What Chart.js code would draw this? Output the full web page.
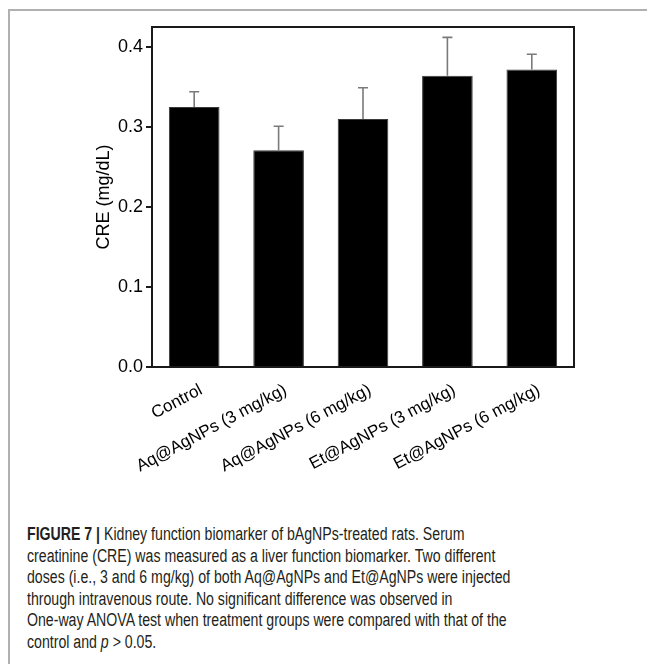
<!DOCTYPE html>
<html>
<head>
<meta charset="utf-8">
<script src="https://cdn.jsdelivr.net/npm/chart.js@4.4.0/dist/chart.umd.min.js"></script>
<style>
  html, body { margin: 0; padding: 0; background: #fff; }
  body { width: 647px; height: 664px; position: relative; overflow: hidden; }
  #frame { position: absolute; left: 8px; top: 9px; width: 660px; height: 700px;
           border-left: 2px solid #b0b0b0; border-top: 2px solid #b0b0b0; }
  #wrap { position: absolute; left: 0; top: 0; width: 647px; height: 480px; }
  #caption { position: absolute; left: 27px; top: 524px; width: 800px;
             font-family: "Liberation Sans", Arial, sans-serif;
             font-size: 18px; line-height: 21.6px; color: #231f20; white-space: nowrap;
             transform: scaleX(0.785); transform-origin: 0 0; }
</style>
</head>
<body>
<div id="frame"></div>
<div id="wrap"><canvas id="c" width="647" height="480"></canvas></div>
<div id="caption"><b>FIGURE 7 |</b> Kidney function biomarker of bAgNPs-treated rats. Serum<br>creatinine (CRE) was measured as a liver function biomarker. Two different<br>doses (i.e., 3 and 6 mg/kg) of both Aq@AgNPs and Et@AgNPs were injected<br>through intravenous route. No significant difference was observed in<br>One-way ANOVA test when treatment groups were compared with that of the<br>control and <i>p</i> &gt; 0.05.</div>
<script>
const categories = ["Control", "Aq@AgNPs (3 mg/kg)", "Aq@AgNPs (6 mg/kg)", "Et@AgNPs (3 mg/kg)", "Et@AgNPs (6 mg/kg)"];
const creMean = [0.325, 0.271, 0.310, 0.364, 0.372];
const creError = [0.019, 0.030, 0.039, 0.048, 0.019];
const yTicks = [0.0, 0.1, 0.2, 0.3, 0.4];

const errorBarPlugin = {
  id: 'errorBars',
  afterDatasetsDraw(chart) {
    const ctx = chart.ctx;
    const meta = chart.getDatasetMeta(0);
    const y = chart.scales.y;
    ctx.save();
    ctx.strokeStyle = '#7a7a7a';
    ctx.lineWidth = 1.6;
    meta.data.forEach((bar, i) => {
      const x = bar.x;
      const y0 = y.getPixelForValue(creMean[i]);
      const y1 = y.getPixelForValue(creMean[i] + creError[i]);
      ctx.beginPath();
      ctx.moveTo(x, y0);
      ctx.lineTo(x, y1);
      ctx.moveTo(x - 5, y1);
      ctx.lineTo(x + 5, y1);
      ctx.stroke();
    });
    ctx.restore();
  }
};

const boxPlugin = {
  id: 'box',
  afterDraw(chart) {
    const a = chart.chartArea;
    const ctx = chart.ctx;
    ctx.save();
    ctx.strokeStyle = '#1a1a1a';
    ctx.lineWidth = 2;
    ctx.strokeRect(a.left, a.top, a.right - a.left, a.bottom - a.top);
    ctx.restore();
  }
};

new Chart(document.getElementById('c'), {
  type: 'bar',
  data: {
    labels: categories,
    datasets: [{
      data: creMean,
      backgroundColor: '#000000',
      borderColor: '#3a3a3a',
      borderWidth: 1,
      barPercentage: 1.0,
      categoryPercentage: 0.6
    }]
  },
  options: {
    responsive: false,
    animation: false,
    devicePixelRatio: 1,
    layout: { padding: { left: 0, top: 27, right: 73, bottom: 0 } },
    plugins: { legend: { display: false }, tooltip: { enabled: false } },
    scales: {
      x: {
        grid: { display: false },
        border: { display: false },
        ticks: {
          color: '#000',
          font: { family: 'Liberation Sans, Arial, sans-serif', size: 17 },
          minRotation: 28, maxRotation: 28, autoSkip: false, padding: 5, labelOffset: 7
        },
        afterFit(scale) { scale.height = 113; }
      },
      y: {
        min: 0, max: 0.425,
        afterBuildTicks(scale) { scale.ticks = yTicks.map(v => ({ value: v })); },
        grid: { display: true, drawOnChartArea: false, drawTicks: true, tickLength: 6, color: '#1a1a1a', lineWidth: 2 },
        border: { display: false },
        ticks: {
          color: '#000',
          font: { family: 'Liberation Sans, Arial, sans-serif', size: 18 },
          padding: 3,
          callback: v => Number(v).toFixed(1)
        },
        title: {
          display: true, text: 'CRE (mg/dL)', color: '#000',
          font: { family: 'Liberation Sans, Arial, sans-serif', size: 18 },
          padding: { top: 93, bottom: 2 }
        },
        afterFit(scale) { scale.width = 152; }
      }
    }
  },
  plugins: [errorBarPlugin, boxPlugin]
});
</script>
</body>
</html>
